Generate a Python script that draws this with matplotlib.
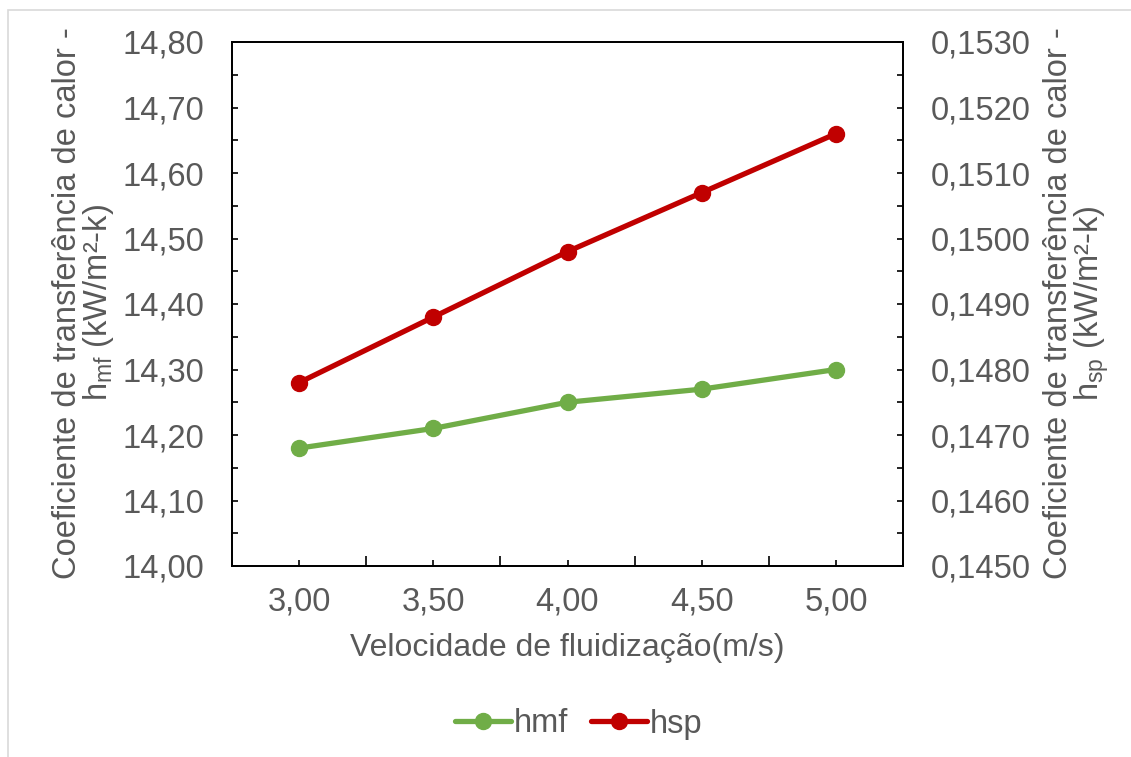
import matplotlib
matplotlib.use("Agg")
import matplotlib.pyplot as plt
from matplotlib.ticker import FuncFormatter, MultipleLocator, FixedLocator
from matplotlib.patches import Rectangle

# data
velocidade = [3.00, 3.50, 4.00, 4.50, 5.00]
hmf = [14.18, 14.21, 14.25, 14.27, 14.30]
hsp = [0.1478, 0.1488, 0.1498, 0.1507, 0.1516]

plt.rcParams['font.family'] = ['Liberation Sans', 'DejaVu Sans']
plt.rcParams['mathtext.default'] = 'regular'

grey = '#595959'
green = '#70AD47'
red = '#C00000'
fs = 23.5

fig = plt.figure(figsize=(11.31, 7.57), dpi=100)
ax = fig.add_axes([232/1131, 1 - 566/757, 671/1131, 524/757])
ax2 = ax.twinx()

# light outer border (right/bottom edges run off the image)
fig.patches.append(Rectangle((8/1131, -0.1), 1.2, 1 - 10/757 + 0.1,
                             transform=fig.transFigure, fill=False,
                             edgecolor='#d9d9d9', lw=1.2))

l1, = ax.plot(velocidade, hmf, color=green, lw=3.8, marker='o', ms=11.5,
              solid_capstyle='round', label='hmf')
l2, = ax2.plot(velocidade, hsp, color=red, lw=3.8, marker='o', ms=11.5,
               solid_capstyle='round', label='hsp')

ax.set_xlim(2.75, 5.25)
ax.set_ylim(14.0, 14.8)
ax2.set_ylim(0.1450, 0.1530)

ax.xaxis.set_major_locator(FixedLocator(velocidade))
ax.xaxis.set_minor_locator(FixedLocator([3.25, 3.75, 4.25, 4.75]))
ax.xaxis.set_major_formatter(FuncFormatter(lambda v, p: f"{v:.2f}".replace('.', ',')))
ax.yaxis.set_major_locator(MultipleLocator(0.1))
ax.yaxis.set_minor_locator(MultipleLocator(0.05))
ax.yaxis.set_major_formatter(FuncFormatter(lambda v, p: f"{v:.2f}".replace('.', ',')))
ax2.yaxis.set_major_locator(MultipleLocator(0.001))
ax2.yaxis.set_minor_locator(MultipleLocator(0.0005))
ax2.yaxis.set_major_formatter(FuncFormatter(lambda v, p: f"{v:.4f}".replace('.', ',')))

for a in (ax, ax2):
    for s in a.spines.values():
        s.set_color('black')
        s.set_linewidth(1.3)

ax.tick_params(axis='x', which='major', direction='in', length=4, width=1.2,
               labelsize=fs, labelcolor=grey, pad=15, top=False)
ax.tick_params(axis='x', which='minor', direction='in', length=7, width=1.2, top=False)
ax.tick_params(axis='y', which='both', direction='in', length=4, width=1.2,
               labelsize=fs, labelcolor=grey, pad=20, right=False)
ax2.tick_params(axis='y', which='both', direction='in', length=4, width=1.2,
                labelsize=fs, labelcolor=grey, pad=20)

ax.set_xlabel('Velocidade de fluidização(m/s)', fontsize=23, color=grey, va='center')
ax.xaxis.set_label_coords(0.5, -0.156)

ax.set_ylabel('Coeficiente de transferência de calor -\nh$_{mf}$ (kW/m²-k)',
              fontsize=fs, color=grey, va='center', linespacing=0.95)
ax.yaxis.set_label_coords(-0.2206, 0.502)
ax2.set_ylabel('Coeficiente de transferência de calor -\nh$_{sp}$ (kW/m²-k)',
               fontsize=fs, color=grey, va='center', rotation=90, linespacing=0.95)
ax2.yaxis.set_label_coords(1.259, 0.502)

leg = fig.legend(handles=[l1, l2], loc='center', bbox_to_anchor=(579/1131, 1 - 724/757),
                 ncol=2, frameon=False, fontsize=fs, handlelength=1.7,
                 columnspacing=0.7, handletextpad=0.1)
for t in leg.get_texts():
    t.set_color(grey)

fig.savefig('out.png', dpi=100)
